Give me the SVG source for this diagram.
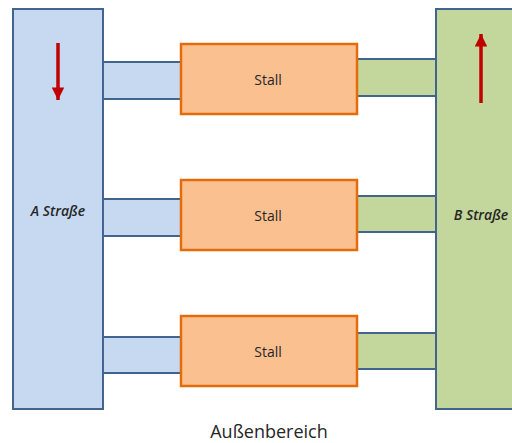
<svg xmlns="http://www.w3.org/2000/svg" width="512" height="443" viewBox="0 0 512 443">
  <style>
    .blue { fill: #c6d9f1; stroke: #41658f; stroke-width: 2; }
    .green { fill: #c3d69b; stroke: #41658f; stroke-width: 2; }
    .stall { fill: #fac090; stroke: #e46c0a; stroke-width: 2.5; }
    .lbl { font-family: "Open Sans", "Liberation Sans", sans-serif; fill: #262626; text-anchor: middle; }
    .street { font-style: italic; font-weight: 600; font-size: 14px; }
    .arrow { stroke: #c00000; stroke-width: 3.5; fill: none; }
  </style>
  <defs>
    <marker id="head" viewBox="0 0 10 10" refX="10" refY="5" markerWidth="3.6" markerHeight="3.6" markerUnits="strokeWidth" orient="auto">
      <path d="M0,0 L10,5 L0,10 Z" fill="#c00000"/>
    </marker>
  </defs>
  <rect width="512" height="443" fill="#ffffff"/>

  <!-- connectors between the streets and the stalls -->
  <g id="connectors">
    <rect class="blue" x="102" y="62" width="79" height="37"/>
    <rect class="green" x="357" y="59" width="79" height="37"/>
    <rect class="blue" x="102" y="199" width="79" height="37"/>
    <rect class="green" x="357" y="196" width="79" height="36"/>
    <rect class="blue" x="102" y="337" width="79" height="36"/>
    <rect class="green" x="357" y="333" width="79" height="36"/>
  </g>

  <g id="street-a">
    <rect class="blue" x="13" y="9" width="90" height="400"/>
    <line class="arrow" x1="58" y1="43" x2="58" y2="100" marker-end="url(#head)"/>
    <text class="lbl street" x="58" y="216">A Straße</text>
  </g>

  <g id="street-b">
    <rect class="green" x="436" y="9" width="90" height="400"/>
    <line class="arrow" x1="481" y1="103" x2="481" y2="34" marker-end="url(#head)"/>
    <text class="lbl street" x="481" y="220">B Straße</text>
  </g>

  <g id="stall-1">
    <rect class="stall" x="181" y="44" width="176" height="70"/>
    <text class="lbl" x="268" y="85" font-size="14">Stall</text>
  </g>
  <g id="stall-2">
    <rect class="stall" x="181" y="180" width="176" height="70"/>
    <text class="lbl" x="268" y="221" font-size="14">Stall</text>
  </g>
  <g id="stall-3">
    <rect class="stall" x="181" y="316" width="176" height="70"/>
    <text class="lbl" x="268" y="357" font-size="14">Stall</text>
  </g>

  <g id="outside">
    <text class="lbl" x="269" y="438" font-size="18">Außenbereich</text>
  </g>
</svg>
